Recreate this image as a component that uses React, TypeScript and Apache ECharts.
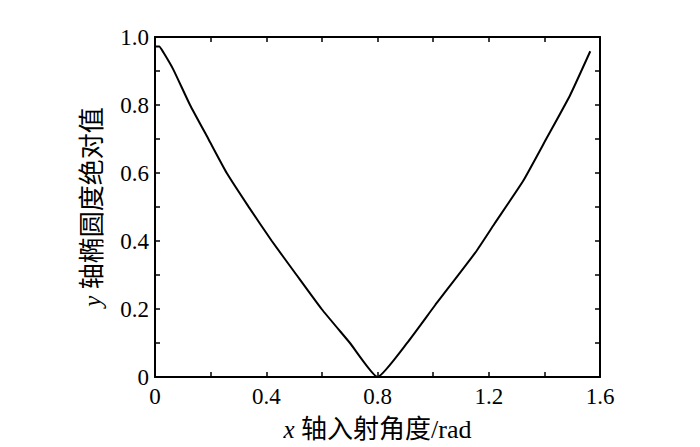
import React, { useEffect, useRef } from "react";
import * as echarts from "echarts";

const angleRad = [0, 0.015, 0.03, 0.066, 0.126, 0.192, 0.258, 0.338, 0.42, 0.509, 0.599, 0.701, 0.8, 0.911, 1.007, 1.151, 1.22, 1.324, 1.408, 1.492, 1.565];
const ovality = [0.972, 0.972, 0.955, 0.904, 0.8, 0.7, 0.6, 0.499, 0.4, 0.3, 0.2, 0.1, 0, 0.105, 0.211, 0.365, 0.45, 0.577, 0.702, 0.828, 0.958];
const xTickLabels = ["0", "0.4", "0.8", "1.2", "1.6"];
const yTickLabels = ["0", "0.2", "0.4", "0.6", "0.8", "1.0"];

const FONT = '"Liberation Serif", "Noto Sans CJK SC", serif';

export default function App() {
  const ref = useRef<HTMLDivElement>(null);
  useEffect(() => {
    if (!ref.current) return;
    const chart = echarts.init(ref.current, null, { renderer: "svg" });
    const lineStyle = { color: "#000", width: 2 };
    const tick = { show: true, inside: true, length: 5, lineStyle: { color: "#000", width: 1.5 } };
    const xLabelAt = (v: number) => {
      const i = Math.round(v / 0.4);
      return Math.abs(v - i * 0.4) < 1e-6 && xTickLabels[i] !== undefined ? xTickLabels[i] : "";
    };
    const yLabelAt = (v: number) => {
      const i = Math.round(v / 0.2);
      return Math.abs(v - i * 0.2) < 1e-6 && yTickLabels[i] !== undefined ? yTickLabels[i] : "";
    };
    const nameStyle = {
      color: "#000",
      fontFamily: FONT,
      fontSize: 26,
      rich: { i: { fontStyle: "italic", fontFamily: FONT, fontSize: 25, color: "#000" } },
    };
    chart.setOption({
      animation: false,
      backgroundColor: "#fff",
      grid: { left: 155, right: 100, top: 37, bottom: 64 },
      xAxis: [
        {
          type: "value",
          min: 0,
          max: 1.6,
          interval: 0.2,
          position: "bottom",
          axisLine: { show: true, onZero: false, lineStyle },
          axisTick: tick,
          splitLine: { show: false },
          axisLabel: {
            color: "#000",
            fontFamily: FONT,
            fontSize: 23,
            margin: 8,
            formatter: xLabelAt,
          },
          name: "{i|x} 轴入射角度/rad",
          nameLocation: "middle",
          nameGap: 39,
          nameTextStyle: nameStyle,
        },
        {
          type: "value",
          min: 0,
          max: 1.6,
          interval: 0.2,
          position: "top",
          axisLine: { show: true, onZero: false, lineStyle },
          axisTick: tick,
          axisLabel: { show: false },
          splitLine: { show: false },
        },
      ],
      yAxis: [
        {
          type: "value",
          min: 0,
          max: 1,
          interval: 0.1,
          position: "left",
          axisLine: { show: true, onZero: false, lineStyle },
          axisTick: tick,
          splitLine: { show: false },
          axisLabel: {
            color: "#000",
            fontFamily: FONT,
            fontSize: 23,
            margin: 6,
            formatter: yLabelAt,
          },
          name: "{i|y} 轴椭圆度绝对值",
          nameLocation: "middle",
          nameGap: 50,
          nameRotate: 90,
          nameTextStyle: nameStyle,
        },
        {
          type: "value",
          min: 0,
          max: 1,
          interval: 0.1,
          position: "right",
          axisLine: { show: true, onZero: false, lineStyle },
          axisTick: tick,
          axisLabel: { show: false },
          splitLine: { show: false },
        },
      ],
      series: [
        {
          type: "line",
          data: angleRad.map((x, i) => [x, ovality[i]]),
          showSymbol: false,
          smooth: 0.15,
          lineStyle: { color: "#000", width: 2 },
        },
      ],
    });
    return () => chart.dispose();
  }, []);
  return <div ref={ref} style={{ width: 700, height: 447, position: "absolute", left: 0, top: 0 }} />;
}
